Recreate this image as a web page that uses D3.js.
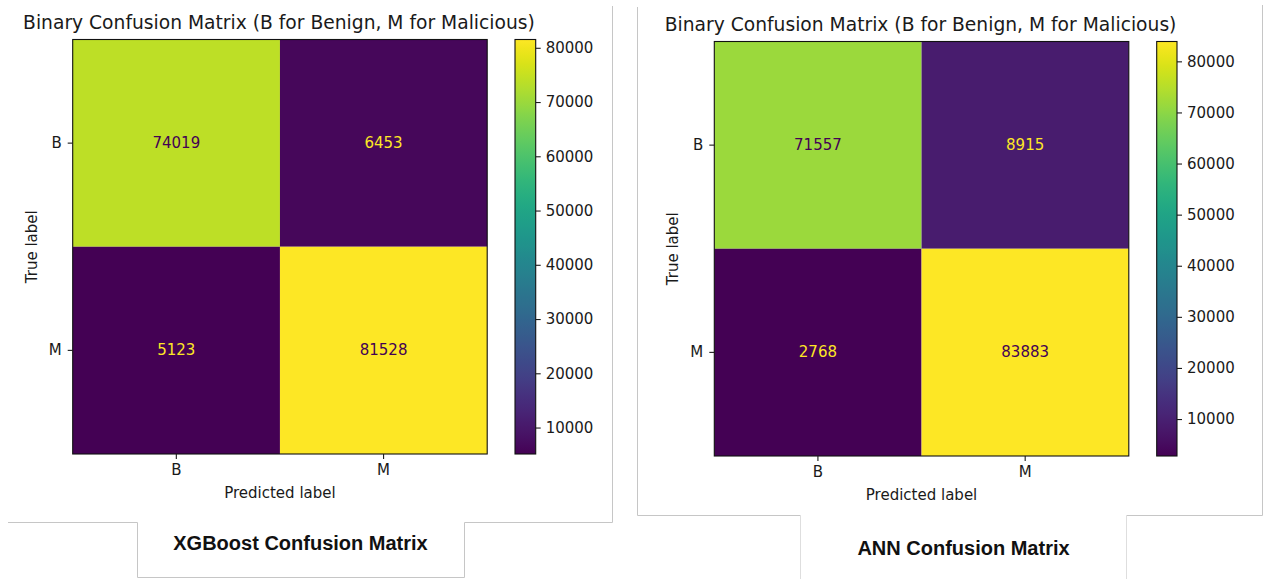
<!DOCTYPE html>
<html>
<head>
<meta charset="utf-8">
<script src="https://cdn.jsdelivr.net/npm/d3@7"></script>
<style>
  html, body { margin: 0; padding: 0; background: #fff; }
  svg { display: block; }
  .tick text { font-family: "DejaVu Sans", sans-serif; font-size: 15px; fill: #1a1a1a; }
  .tick line { stroke: #1a1a1a; stroke-width: 1.1; }
</style>
</head>
<body>
<svg id="chart" width="1271" height="579"></svg>
<script>
// Class labels shared by both matrices (rows = true, columns = predicted)
const classLabels = ["B", "M"];

// XGBoost confusion counts
const xgbCounts = [
  [74019, 6453],
  [5123, 81528]
];

// ANN confusion counts
const annCounts = [
  [71557, 8915],
  [2768, 83883]
];

const colorbarTicks = [10000, 20000, 30000, 40000, 50000, 60000, 70000, 80000];

const plotTitle = "Binary Confusion Matrix (B for Benign, M for Malicious)";
const captions = ["XGBoost Confusion Matrix", "ANN Confusion Matrix"];

const svg = d3.select("#chart");
const defs = svg.append("defs");

const panels = [
  { counts: xgbCounts, caption: captions[0], x: 72.7, y: 39.5, size: 414.5,
    cbX: 515, cbW: 20.7, titleY: 29, captionX: 300.5, captionY: 550,
    outline: [[612.5, 6], [612.5, 522.5], [464.5, 522.5], [464.5, 577.5], [137.5, 577.5], [137.5, 522.5], [8, 522.5]],
    captionSides: null },
  { counts: annCounts, caption: captions[1], x: 714.3, y: 41.5, size: 414.5,
    cbX: 1156.7, cbW: 20.3, titleY: 30.5, captionX: 963.5, captionY: 555,
    outline: [[637.5, 7], [637.5, 515.5], [800.5, 515.5]],
    outline2: [[1126.5, 515.5], [1262.5, 515.5], [1262.5, 5]],
    captionSides: [[[800.5, 515.5], [800.5, 579]], [[1126.5, 515.5], [1126.5, 579]]] }
];

panels.forEach((p, idx) => {
  const flat = p.counts.flat();
  const vmin = d3.min(flat), vmax = d3.max(flat);
  const color = d3.scaleSequential(d3.interpolateViridis).domain([vmin, vmax]);
  const thresh = (vmin + vmax) / 2;

  // light frame around the figure panel and its caption
  const line = d3.line();
  svg.append("path").attr("d", line(p.outline))
    .attr("fill", "none").attr("stroke", "#c6c6c6").attr("stroke-width", 1);
  if (p.outline2) {
    svg.append("path").attr("d", line(p.outline2))
      .attr("fill", "none").attr("stroke", "#c6c6c6").attr("stroke-width", 1);
  }
  if (p.captionSides) {
    p.captionSides.forEach(s => svg.append("path").attr("d", line(s))
      .attr("fill", "none").attr("stroke", "#dedede").attr("stroke-width", 1));
  }

  const g = svg.append("g");
  const xs = d3.scaleBand().domain(classLabels).range([p.x, p.x + p.size]);
  const ys = d3.scaleBand().domain(classLabels).range([p.y, p.y + p.size]);

  const cells = [];
  classLabels.forEach((t, i) => classLabels.forEach((pr, j) =>
    cells.push({ t, pr, v: p.counts[i][j] })));

  g.selectAll("rect.cell").data(cells).join("rect")
    .attr("class", "cell")
    .attr("x", d => xs(d.pr)).attr("y", d => ys(d.t))
    .attr("width", xs.bandwidth()).attr("height", ys.bandwidth())
    .attr("fill", d => color(d.v));

  g.selectAll("text.val").data(cells).join("text")
    .attr("class", "val")
    .attr("x", d => xs(d.pr) + xs.bandwidth() / 2)
    .attr("y", d => ys(d.t) + ys.bandwidth() / 2)
    .attr("text-anchor", "middle").attr("dominant-baseline", "central")
    .attr("font-family", "DejaVu Sans, sans-serif").attr("font-size", 15)
    .attr("fill", d => d.v < thresh ? d3.interpolateViridis(1) : d3.interpolateViridis(0))
    .text(d => d.v);

  g.append("rect").attr("x", p.x).attr("y", p.y)
    .attr("width", p.size).attr("height", p.size)
    .attr("fill", "none").attr("stroke", "#111").attr("stroke-width", 1.1);

  // axes
  const xAxis = g.append("g").attr("transform", `translate(0,${p.y + p.size})`)
    .call(d3.axisBottom(xs).tickSize(5).tickPadding(5));
  xAxis.select(".domain").remove();
  const yAxis = g.append("g").attr("transform", `translate(${p.x},0)`)
    .call(d3.axisLeft(ys).tickSize(5).tickPadding(6));
  yAxis.select(".domain").remove();

  g.append("text")
    .attr("x", p.x + p.size / 2).attr("y", p.y + p.size + 44)
    .attr("text-anchor", "middle")
    .attr("font-family", "DejaVu Sans, sans-serif").attr("font-size", 15).attr("fill", "#1a1a1a")
    .text("Predicted label");

  g.append("text")
    .attr("transform", `translate(${p.x - 36},${p.y + p.size / 2}) rotate(-90)`)
    .attr("text-anchor", "middle")
    .attr("font-family", "DejaVu Sans, sans-serif").attr("font-size", 15).attr("fill", "#1a1a1a")
    .text("True label");

  g.append("text")
    .attr("x", p.x + p.size / 2 - 1).attr("y", p.titleY)
    .attr("text-anchor", "middle")
    .attr("font-family", "DejaVu Sans, sans-serif").attr("font-size", 18.7).attr("fill", "#1a1a1a")
    .text(plotTitle);

  // colorbar
  const gradId = "viridis-grad-" + idx;
  const grad = defs.append("linearGradient").attr("id", gradId)
    .attr("x1", 0).attr("y1", 1).attr("x2", 0).attr("y2", 0);
  d3.range(0, 1.0001, 0.02).forEach(t =>
    grad.append("stop").attr("offset", t).attr("stop-color", d3.interpolateViridis(t)));

  const cbScale = d3.scaleLinear().domain([vmin, vmax]).range([p.y + p.size, p.y]);
  g.append("rect").attr("x", p.cbX).attr("y", p.y)
    .attr("width", p.cbW).attr("height", p.size)
    .attr("fill", `url(#${gradId})`).attr("stroke", "#111").attr("stroke-width", 1.1);
  const cbAxis = g.append("g").attr("transform", `translate(${p.cbX + p.cbW},0)`)
    .call(d3.axisRight(cbScale).tickValues(colorbarTicks).tickSize(5).tickPadding(5).tickFormat(d3.format("d")));
  cbAxis.select(".domain").remove();

  // caption below the panel
  svg.append("text")
    .attr("x", p.captionX).attr("y", p.captionY)
    .attr("text-anchor", "middle")
    .attr("font-family", "Liberation Sans, Arial, sans-serif").attr("font-weight", "bold")
    .attr("font-size", 20).attr("fill", "#111")
    .text(p.caption);
});
</script>
</body>
</html>
